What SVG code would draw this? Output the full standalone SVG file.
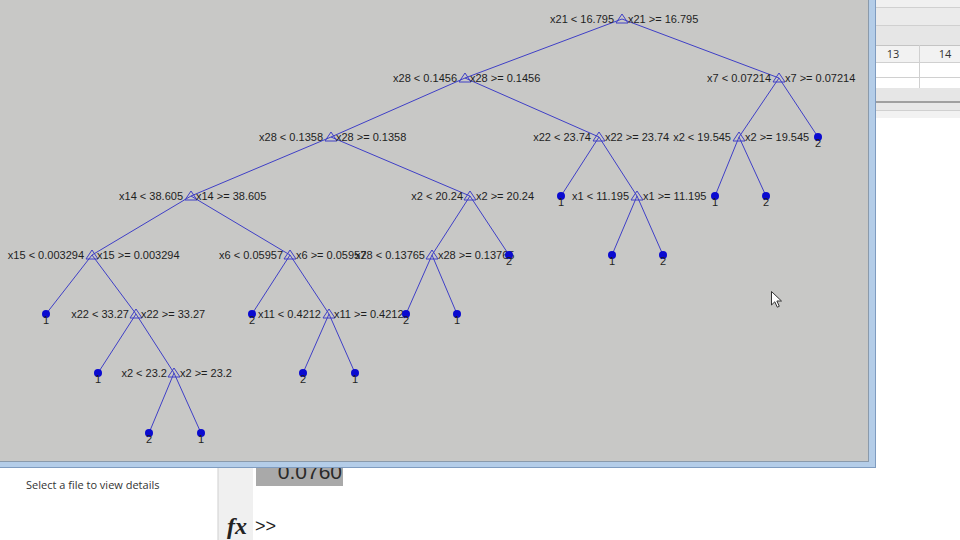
<svg xmlns="http://www.w3.org/2000/svg" xmlns:xlink="http://www.w3.org/1999/xlink" width="960" height="540" viewBox="0 0 960 540">
<style>
.lbl{font-family:"Liberation Sans",Arial,sans-serif;font-size:11px;fill:#1e1e1e}
.l{text-anchor:end}
.r{text-anchor:start}
.c{text-anchor:middle}
.edge{stroke:#3f3fc6;stroke-width:1;fill:none}
.tri{stroke:#3f3fc6;stroke-width:1;fill:none}
.leaf{fill:#0a0ad0}
.grid{stroke:#d0d0d0;stroke-width:1}
</style>
<defs>
<polygon id="tri" class="tri" points="0,-5 -6,4 6,4"/>
<circle id="dot" class="leaf" r="4"/>
</defs>
<rect x="0" y="0" width="960" height="540" fill="#ffffff"/>
<g id="right-panel">
<rect x="876" y="0" width="84" height="7" fill="#f0f0f0"/>
<rect x="876" y="7" width="84" height="18" fill="#ebebeb"/>
<rect x="876" y="25" width="84" height="20" fill="#e6e6e6"/>
<rect x="876" y="45" width="84" height="17" fill="#f2f2f2"/>
<rect x="876" y="62" width="84" height="26" fill="#ffffff"/>
<rect x="876" y="88" width="84" height="13" fill="#e6e6e6"/>
<rect x="876" y="103" width="84" height="7" fill="#e8e8e8"/>
<rect x="876" y="110" width="84" height="8" fill="#f2f2f2"/>
<line class="grid" x1="876" y1="7.5" x2="960" y2="7.5"/>
<line class="grid" x1="876" y1="25.5" x2="960" y2="25.5"/>
<line x1="876" y1="45.5" x2="960" y2="45.5" stroke="#c4c4c4"/>
<line class="grid" x1="876" y1="62.5" x2="960" y2="62.5"/>
<line class="grid" x1="876" y1="77.5" x2="960" y2="77.5"/>
<line class="grid" x1="919.5" y1="45" x2="919.5" y2="88"/>
<line x1="876" y1="102" x2="960" y2="102" stroke="#a0a0a0" stroke-width="2"/>
<line class="grid" x1="876" y1="110.5" x2="960" y2="110.5"/>
<text x="893" y="58" font-family="'Open Sans','Noto Sans',sans-serif" font-size="11" fill="#333" text-anchor="middle">13</text>
<text x="945" y="58" font-family="'Open Sans','Noto Sans',sans-serif" font-size="11" fill="#333" text-anchor="middle">14</text>
</g>
<g id="bottom-panel">
<rect x="218" y="462" width="35" height="78" fill="#f0f0f0"/>
<line x1="218" y1="462" x2="218" y2="540" stroke="#cfcfcf"/>
<text x="26" y="489" font-family="'Open Sans','Noto Sans',sans-serif" font-size="11" fill="#333">Select a file to view details</text>
<rect x="256" y="462" width="87" height="24" fill="#a9a9a9"/>
<text x="342" y="479" font-family="'Liberation Sans',Arial,sans-serif" font-size="21" fill="#2a2a2a" text-anchor="end">0.0760</text>
<text x="227" y="534" font-family="'Liberation Serif','Times New Roman',serif" font-size="24" font-style="italic" font-weight="bold" fill="#222">fx</text>
<text x="255" y="532" font-family="'Liberation Sans',Arial,sans-serif" font-size="18" fill="#222">&gt;&gt;</text>
</g>
<g id="window">
<rect x="0" y="0" width="869" height="462" fill="#c8c8c6"/>
<rect x="869" y="0" width="6" height="467" fill="#b4cde8"/>
<rect x="0" y="462" width="875" height="5" fill="#b4cde8"/>
<line x1="868.5" y1="0" x2="868.5" y2="462" stroke="#8a9aab"/>
<line x1="0" y1="461.5" x2="869" y2="461.5" stroke="#8a9aab"/>
<line x1="875.5" y1="0" x2="875.5" y2="467" stroke="#7f9cc0"/>
<line x1="0" y1="467.5" x2="876" y2="467.5" stroke="#7f9cc0"/>
</g>
<g id="connectors">
<line class="edge" x1="622" y1="19" x2="465" y2="78"/>
<line class="edge" x1="622" y1="19" x2="779" y2="78"/>
<line class="edge" x1="465" y1="78" x2="331" y2="137"/>
<line class="edge" x1="465" y1="78" x2="599" y2="137"/>
<line class="edge" x1="779" y1="78" x2="739" y2="137"/>
<line class="edge" x1="779" y1="78" x2="818" y2="137"/>
<line class="edge" x1="331" y1="137" x2="191" y2="196"/>
<line class="edge" x1="331" y1="137" x2="470" y2="196"/>
<line class="edge" x1="599" y1="137" x2="561" y2="196"/>
<line class="edge" x1="599" y1="137" x2="637" y2="196"/>
<line class="edge" x1="739" y1="137" x2="715" y2="196"/>
<line class="edge" x1="739" y1="137" x2="766" y2="196"/>
<line class="edge" x1="191" y1="196" x2="92" y2="255"/>
<line class="edge" x1="191" y1="196" x2="290" y2="255"/>
<line class="edge" x1="470" y1="196" x2="432" y2="255"/>
<line class="edge" x1="470" y1="196" x2="509" y2="255"/>
<line class="edge" x1="637" y1="196" x2="612" y2="255"/>
<line class="edge" x1="637" y1="196" x2="663" y2="255"/>
<line class="edge" x1="92" y1="255" x2="46" y2="314"/>
<line class="edge" x1="92" y1="255" x2="136" y2="314"/>
<line class="edge" x1="290" y1="255" x2="252" y2="314"/>
<line class="edge" x1="290" y1="255" x2="329" y2="314"/>
<line class="edge" x1="432" y1="255" x2="406" y2="314"/>
<line class="edge" x1="432" y1="255" x2="457" y2="314"/>
<line class="edge" x1="136" y1="314" x2="98" y2="373"/>
<line class="edge" x1="136" y1="314" x2="174" y2="373"/>
<line class="edge" x1="329" y1="314" x2="303" y2="373"/>
<line class="edge" x1="329" y1="314" x2="355" y2="373"/>
<line class="edge" x1="174" y1="373" x2="149" y2="433"/>
<line class="edge" x1="174" y1="373" x2="201" y2="433"/>
</g>
<g id="n0"><use xlink:href="#tri" href="#tri" x="622" y="19"/><text class="lbl l" x="614" y="23">x21 &lt; 16.795</text><text class="lbl r" x="628" y="23">x21 &gt;= 16.795</text></g>
<g id="n1"><use xlink:href="#tri" href="#tri" x="465" y="78"/><text class="lbl l" x="457" y="82">x28 &lt; 0.1456</text><text class="lbl r" x="470" y="82">x28 &gt;= 0.1456</text></g>
<g id="n2"><use xlink:href="#tri" href="#tri" x="779" y="78"/><text class="lbl l" x="771" y="82">x7 &lt; 0.07214</text><text class="lbl r" x="785" y="82">x7 &gt;= 0.07214</text></g>
<g id="n3"><use xlink:href="#tri" href="#tri" x="331" y="137"/><text class="lbl l" x="323" y="141">x28 &lt; 0.1358</text><text class="lbl r" x="336" y="141">x28 &gt;= 0.1358</text></g>
<g id="n4"><use xlink:href="#tri" href="#tri" x="599" y="137"/><text class="lbl l" x="591" y="141">x22 &lt; 23.74</text><text class="lbl r" x="605" y="141">x22 &gt;= 23.74</text></g>
<g id="n5"><use xlink:href="#tri" href="#tri" x="739" y="137"/><text class="lbl l" x="731" y="141">x2 &lt; 19.545</text><text class="lbl r" x="745" y="141">x2 &gt;= 19.545</text></g>
<g id="leaf-818"><use xlink:href="#dot" href="#dot" x="818" y="137"/><text class="lbl c" x="818" y="147">2</text></g>
<g id="n6"><use xlink:href="#tri" href="#tri" x="191" y="196"/><text class="lbl l" x="183" y="200">x14 &lt; 38.605</text><text class="lbl r" x="196" y="200">x14 &gt;= 38.605</text></g>
<g id="n7"><use xlink:href="#tri" href="#tri" x="470" y="196"/><text class="lbl l" x="463" y="200">x2 &lt; 20.24</text><text class="lbl r" x="476" y="200">x2 &gt;= 20.24</text></g>
<g id="leaf-561"><use xlink:href="#dot" href="#dot" x="561" y="196"/><text class="lbl c" x="561" y="206">1</text></g>
<g id="n8"><use xlink:href="#tri" href="#tri" x="637" y="196"/><text class="lbl l" x="629" y="200">x1 &lt; 11.195</text><text class="lbl r" x="643" y="200">x1 &gt;= 11.195</text></g>
<g id="leaf-715"><use xlink:href="#dot" href="#dot" x="715" y="196"/><text class="lbl c" x="715" y="206">1</text></g>
<g id="leaf-766"><use xlink:href="#dot" href="#dot" x="766" y="196"/><text class="lbl c" x="766" y="206">2</text></g>
<g id="n9"><use xlink:href="#tri" href="#tri" x="92" y="255"/><text class="lbl l" x="84" y="259">x15 &lt; 0.003294</text><text class="lbl r" x="97" y="259">x15 &gt;= 0.003294</text></g>
<g id="n10"><use xlink:href="#tri" href="#tri" x="290" y="255"/><text class="lbl l" x="283" y="259">x6 &lt; 0.05957</text><text class="lbl r" x="296" y="259">x6 &gt;= 0.05957</text></g>
<g id="n11"><use xlink:href="#tri" href="#tri" x="432" y="255"/><text class="lbl l" x="425" y="259">x28 &lt; 0.13765</text><text class="lbl r" x="438" y="259">x28 &gt;= 0.13765</text></g>
<g id="leaf-509"><use xlink:href="#dot" href="#dot" x="509" y="255"/><text class="lbl c" x="509" y="265">2</text></g>
<g id="leaf-612"><use xlink:href="#dot" href="#dot" x="612" y="255"/><text class="lbl c" x="612" y="265">1</text></g>
<g id="leaf-663"><use xlink:href="#dot" href="#dot" x="663" y="255"/><text class="lbl c" x="663" y="265">2</text></g>
<g id="leaf-46"><use xlink:href="#dot" href="#dot" x="46" y="314"/><text class="lbl c" x="46" y="324">1</text></g>
<g id="n12"><use xlink:href="#tri" href="#tri" x="136" y="314"/><text class="lbl l" x="129" y="318">x22 &lt; 33.27</text><text class="lbl r" x="141" y="318">x22 &gt;= 33.27</text></g>
<g id="leaf-252"><use xlink:href="#dot" href="#dot" x="252" y="314"/><text class="lbl c" x="252" y="324">2</text></g>
<g id="n13"><use xlink:href="#tri" href="#tri" x="329" y="314"/><text class="lbl l" x="321" y="318">x11 &lt; 0.4212</text><text class="lbl r" x="334" y="318">x11 &gt;= 0.4212</text></g>
<g id="leaf-406"><use xlink:href="#dot" href="#dot" x="406" y="314"/><text class="lbl c" x="406" y="324">2</text></g>
<g id="leaf-457"><use xlink:href="#dot" href="#dot" x="457" y="314"/><text class="lbl c" x="457" y="324">1</text></g>
<g id="leaf-98"><use xlink:href="#dot" href="#dot" x="98" y="373"/><text class="lbl c" x="98" y="383">1</text></g>
<g id="n14"><use xlink:href="#tri" href="#tri" x="174" y="373"/><text class="lbl l" x="167" y="377">x2 &lt; 23.2</text><text class="lbl r" x="180" y="377">x2 &gt;= 23.2</text></g>
<g id="leaf-303"><use xlink:href="#dot" href="#dot" x="303" y="373"/><text class="lbl c" x="303" y="383">2</text></g>
<g id="leaf-355"><use xlink:href="#dot" href="#dot" x="355" y="373"/><text class="lbl c" x="355" y="383">1</text></g>
<g id="leaf-149"><use xlink:href="#dot" href="#dot" x="149" y="433"/><text class="lbl c" x="149" y="443">2</text></g>
<g id="leaf-201"><use xlink:href="#dot" href="#dot" x="201" y="433"/><text class="lbl c" x="201" y="443">1</text></g>
<path id="cursor" d="M771.5,291.5 L771.5,305 L774.8,301.8 L777.3,307.2 L779.3,306.3 L776.9,301 L781.5,301 Z" fill="#ffffff" stroke="#333333" stroke-width="1"/>
</svg>
